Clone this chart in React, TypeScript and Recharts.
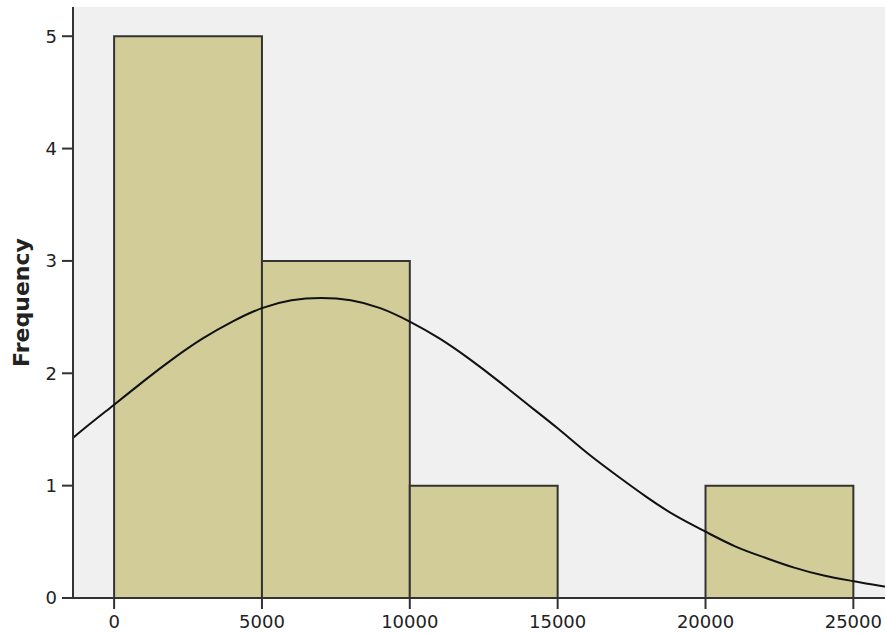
import React from "react";
import {
  ComposedChart,
  Line,
  XAxis,
  YAxis,
  CartesianGrid,
  ReferenceArea,
} from "recharts";

// histogram bins (lower edge, upper edge, frequency)
const binStart = [0, 5000, 10000, 15000, 20000];
const binEnd = [5000, 10000, 15000, 20000, 25000];
const frequency = [5, 3, 1, 0, 1];

// fitted normal curve
const curveX = [
  -2000, -1000, 0, 1000, 2000, 3000, 4000, 5000, 6000, 7000, 8000, 9000,
  10000, 11000, 12000, 13000, 14000, 15000, 16000, 17000, 18000, 19000,
  20000, 21000, 22000, 23000, 24000, 25000, 26000, 27000,
];
const curveY = [
  1.29, 1.51, 1.72, 1.93, 2.13, 2.31, 2.46, 2.58, 2.65, 2.67, 2.65, 2.58,
  2.46, 2.31, 2.13, 1.93, 1.72, 1.51, 1.29, 1.09, 0.9, 0.73, 0.59, 0.46,
  0.36, 0.27, 0.2, 0.15, 0.105, 0.074,
];

const xTicks = [0, 5000, 10000, 15000, 20000, 25000];
const yTicks = [0, 1, 2, 3, 4, 5];

const curve = curveX.map((x, i) => ({ x, y: curveY[i] }));

const tickStyle = { fontSize: 18, fill: "#222", fontFamily: "DejaVu Sans" };

function YTitle(props: any) {
  const { viewBox } = props;
  const x = viewBox.x + 29;
  const cy = viewBox.y + viewBox.height / 2;
  return (
    <text
      x={x}
      y={cy}
      transform={`rotate(-90, ${x}, ${cy})`}
      textAnchor="middle"
      fontFamily="DejaVu Sans"
      fontWeight="bold"
      fontSize={22}
      fill="#222"
    >
      Frequency
    </text>
  );
}

export default function App() {
  return (
    <div style={{ position: "absolute", left: 0, top: 0, background: "#fff" }}>
      <ComposedChart
        width={885}
        height={633}
        data={curve}
        margin={{ top: 7, right: 0, left: 0, bottom: 0 }}
      >
        <CartesianGrid
          fill="#f0f0f0"
          horizontal={false}
          vertical={false}
          stroke="none"
        />
        <XAxis
          dataKey="x"
          type="number"
          domain={[-1390, 26070]}
          allowDataOverflow
          ticks={xTicks}
          interval={0}
          height={35}
          tick={tickStyle}
          tickSize={11}
          tickMargin={6}
          axisLine={{ stroke: "#333", strokeWidth: 2 }}
          tickLine={{ stroke: "#333", strokeWidth: 2 }}
        />
        <XAxis
          xAxisId="top"
          orientation="top"
          type="number"
          domain={[-1390, 26070]}
          height={0}
          tick={false}
          tickLine={false}
          axisLine={{ stroke: "#333", strokeWidth: 2 }}
        />
        <YAxis
          type="number"
          domain={[0, 5.26]}
          allowDataOverflow
          ticks={yTicks}
          interval={0}
          width={73}
          tick={tickStyle}
          tickSize={11}
          tickMargin={5}
          axisLine={{ stroke: "#333", strokeWidth: 2 }}
          tickLine={{ stroke: "#333", strokeWidth: 2 }}
          label={<YTitle />}
        />
        {binStart.map((s, i) =>
          frequency[i] > 0 ? (
            <ReferenceArea
              key={i}
              x1={s}
              x2={binEnd[i]}
              y1={0}
              y2={frequency[i]}
              fill="#d2cd98"
              fillOpacity={1}
              stroke="#333"
              strokeWidth={2}
            />
          ) : null
        )}
        <Line
          type="natural"
          dataKey="y"
          stroke="#111"
          strokeWidth={2}
          dot={false}
          activeDot={false}
          isAnimationActive={false}
        />
      </ComposedChart>
    </div>
  );
}
